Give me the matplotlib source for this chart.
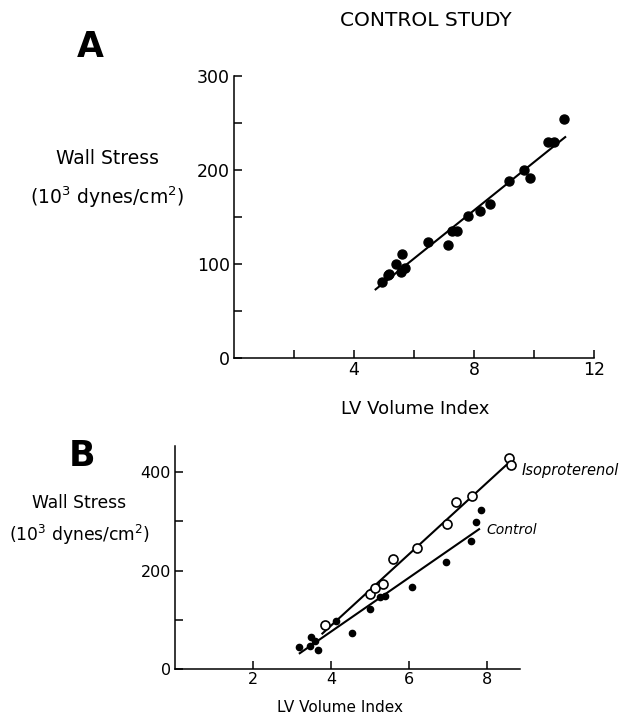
import matplotlib
matplotlib.use('Agg')
import matplotlib.pyplot as plt

plt.rcParams['font.family'] = ['DejaVu Sans']

# Panel A: control study
a_volume = [4.92, 5.18, 5.39, 5.59, 5.56, 5.70, 5.14, 6.46, 7.14, 7.26, 7.44,
            7.79, 8.20, 8.53, 9.17, 9.66, 9.88, 10.46, 10.68, 10.99]
a_stress = [81, 89, 100, 111, 91, 96, 88, 123, 120, 135, 135,
            151, 156, 164, 188, 200, 191, 230, 230, 254]
a_fit_x = [4.72, 11.04]
a_fit_y = [73, 235]

# Panel B: control (filled) vs isoproterenol (open)
b_ctrl_volume = [3.19, 3.46, 3.50, 3.59, 3.67, 4.14, 4.53, 5.00, 5.26, 5.38,
                 6.07, 6.94, 7.60, 7.72, 7.84]
b_ctrl_stress = [44, 47, 66, 57, 39, 98, 74, 122, 146, 149,
                 167, 218, 260, 299, 323]
b_iso_volume = [3.85, 5.00, 5.13, 5.34, 5.60, 6.20, 6.97, 7.20, 7.62, 8.56, 8.63]
b_iso_stress = [89, 152, 165, 173, 223, 246, 294, 340, 352, 428, 414]
b_ctrl_fit_x = [3.20, 7.80]
b_ctrl_fit_y = [32, 284]
b_iso_fit_x = [3.78, 8.59]
b_iso_fit_y = [72, 421]

fig = plt.figure(figsize=(6.22, 7.2), dpi=100)


def style_axes(ax, size):
    for s in ['top', 'right']:
        ax.spines[s].set_visible(False)
    for s in ['left', 'bottom']:
        ax.spines[s].set_linewidth(1.1)
    ax.tick_params(which='both', direction='in', width=1.1, length=6,
                   labelsize=size, pad=3)


# ---- A ----
axA = fig.add_axes([234 / 622, 362 / 720, 360 / 622, 282 / 720])
axA.plot(a_fit_x, a_fit_y, color='black', lw=1.5, zorder=2)
axA.plot(a_volume, a_stress, 'o', color='black', ms=6.5, zorder=3)
axA.set_xlim(0, 12)
axA.set_ylim(0, 300)
axA.set_xticks([4, 8, 12])
axA.set_xticks([2, 6, 10], minor=True)
axA.set_yticks([0, 100, 200, 300])
axA.set_yticks([50, 150, 250], minor=True)
style_axes(axA, 12.5)
axA.tick_params(axis='x', pad=2)

fig.text(415 / 622, 1 - 409 / 720, 'LV Volume Index', ha='center', va='center', fontsize=13)
fig.text(426 / 622, 1 - 21 / 720, 'CONTROL STUDY', ha='center', va='center', fontsize=14.5)
fig.text(90 / 622, 1 - 47 / 720, 'A', ha='center', va='center', fontsize=25, weight='bold')
fig.text(107 / 622, 1 - 158 / 720, 'Wall Stress', ha='center', va='center', fontsize=13.5)
fig.text(107 / 622, 1 - 197 / 720, '(10$^3$ dynes/cm$^2$)', ha='center', va='center',
         fontsize=13.5)

# ---- B ----
axB = fig.add_axes([175 / 622, 51 / 720, 345 / 622, 223 / 720])
axB.plot(b_iso_fit_x, b_iso_fit_y, color='black', lw=1.5, zorder=2)
axB.plot(b_ctrl_fit_x, b_ctrl_fit_y, color='black', lw=1.5, zorder=2)
axB.plot(b_ctrl_volume, b_ctrl_stress, 'o', color='black', ms=4.5, zorder=3)
axB.plot(b_iso_volume, b_iso_stress, 'o', mfc='white', mec='black', mew=1.2,
         ms=6.5, zorder=4)
axB.set_xlim(0, 8.85)
axB.set_ylim(0, 453)
axB.set_xticks([2, 4, 6, 8])
axB.set_yticks([0, 200, 400])
axB.set_yticks([100, 300], minor=True)
style_axes(axB, 11.5)
axB.tick_params(axis='x', pad=2)
axB.text(8.9, 404, 'Isoproterenol', style='italic', fontsize=10.5, ha='left',
         va='center', clip_on=False)
axB.text(8.0, 282, 'Control', style='italic', fontsize=10, ha='left',
         va='center', clip_on=False)

fig.text(340 / 622, 1 - 707 / 720, 'LV Volume Index', ha='center', va='center', fontsize=11)
fig.text(82 / 622, 1 - 456 / 720, 'B', ha='center', va='center', fontsize=25, weight='bold')
fig.text(79 / 622, 1 - 503 / 720, 'Wall Stress', ha='center', va='center', fontsize=12.3)
fig.text(79 / 622, 1 - 535 / 720, '(10$^3$ dynes/cm$^2$)', ha='center', va='center',
         fontsize=12.3)

fig.savefig('out.png', dpi=100)
